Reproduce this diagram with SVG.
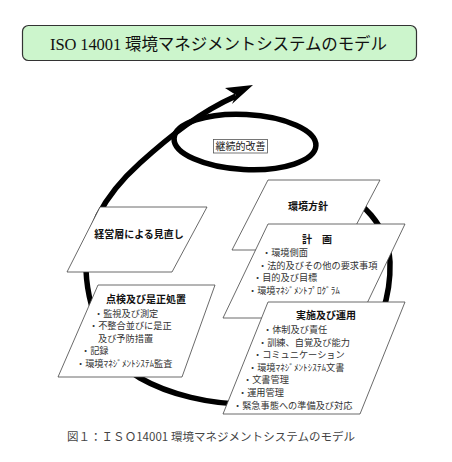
<svg xmlns="http://www.w3.org/2000/svg" width="452" height="462" viewBox="0 0 452 462">
<style>
.jp{font-family:"Noto Sans CJK JP","Noto Sans CJK SC",sans-serif;}
.body{font-size:9.2px;fill:#333;}
.head{font-size:10px;font-weight:bold;fill:#111;}
.box{fill:#fff;stroke:#444;stroke-width:0.8;}
.loop{fill:none;stroke:#000;stroke-width:5.5;}
</style>
<rect width="452" height="462" fill="#fff"/>
<g id="title">
<rect x="22.5" y="25.5" width="394" height="35" rx="6" fill="#ccf5cc" stroke="#333" stroke-width="1.2"/>
<text x="50" y="50" font-family="Liberation Serif,'Noto Sans CJK JP',serif" font-size="16.5" fill="#111" textLength="337" lengthAdjust="spacing">ISO 14001 環境マネジメントシステムのモデル</text>
</g>
<g id="connectors">
<ellipse class="loop" cx="245" cy="142" rx="71" ry="27.5" transform="rotate(3 245 142)"/>
<path class="loop" d="M335,190 C360,198 388,225 390,262 C392,330 345,402 252,404 C210,405 168,394 140,378 C115,364 88,320 86,270 C84,225 110,190 140,163 C170,136 200,112 236,96"/>
<polygon points="253,85 225,88 236,95 232,104" fill="#000"/>
</g>
<g id="kaizen">
<rect x="213.5" y="139.5" width="54" height="13.5" fill="#fff" stroke="#555" stroke-width="0.8"/>
<text class="jp" x="240.5" y="150" font-size="10" fill="#222" text-anchor="middle">継続的改善</text>
</g>
<g id="minaoshi">
<polygon class="box" points="100,207 207,207 172,272 67,272"/>
<text class="jp head" x="139" y="237.5" text-anchor="middle">経営層による見直し</text>
</g>
<g id="tenken">
<polygon class="box" points="98,285 215,285 182,377 58,377"/>
<text class="jp head" x="146" y="303" text-anchor="middle">点検及び是正処置</text>
<text class="jp body" x="94" y="316.5">・監視及び測定</text>
<text class="jp body" x="89" y="329">・不整合並びに是正</text>
<text class="jp body" x="98" y="341.5">及び予防措置</text>
<text class="jp body" x="81" y="354">・記録</text>
<text class="jp body" x="76" y="366.5">・環境ﾏﾈｼﾞﾒﾝﾄｼｽﾃﾑ監査</text>
</g>
<g id="houshin">
<polygon class="box" points="268,180 380,180 343,250 232,250"/>
<text class="jp head" x="308" y="209.5" text-anchor="middle">環境方針</text>
</g>
<g id="keikaku">
<polygon class="box" points="268,224 405,224 360,318 223,318"/>
<text class="jp head" x="317" y="243" text-anchor="middle">計　画</text>
<text class="jp body" x="262" y="256">・環境側面</text>
<text class="jp body" x="258" y="268.5">・法的及びその他の要求事項</text>
<text class="jp body" x="253" y="281">・目的及び目標</text>
<text class="jp body" x="248" y="293.5">・環境ﾏﾈｼﾞﾒﾝﾄﾌﾟﾛｸﾞﾗﾑ</text>
</g>
<g id="jisshi">
<polygon class="box" points="268,302 405,302 360,414 223,414"/>
<text class="jp head" x="326" y="319" text-anchor="middle">実施及び運用</text>
<text class="jp body" x="263" y="333">・体制及び責任</text>
<text class="jp body" x="258" y="345.5">・訓練、自覚及び能力</text>
<text class="jp body" x="253" y="358">・コミュニケーション</text>
<text class="jp body" x="248" y="370.5">・環境ﾏﾈｼﾞﾒﾝﾄｼｽﾃﾑ文書</text>
<text class="jp body" x="243" y="383">・文書管理</text>
<text class="jp body" x="238" y="395.5">・運用管理</text>
<text class="jp body" x="233" y="408.5">・緊急事態への準備及び対応</text>
</g>
<g id="caption">
<text class="jp" x="67" y="441" font-size="11.5" fill="#444" textLength="288" lengthAdjust="spacing">図１：ＩＳＯ14001 環境マネジメントシステムのモデル</text>
</g>
</svg>
